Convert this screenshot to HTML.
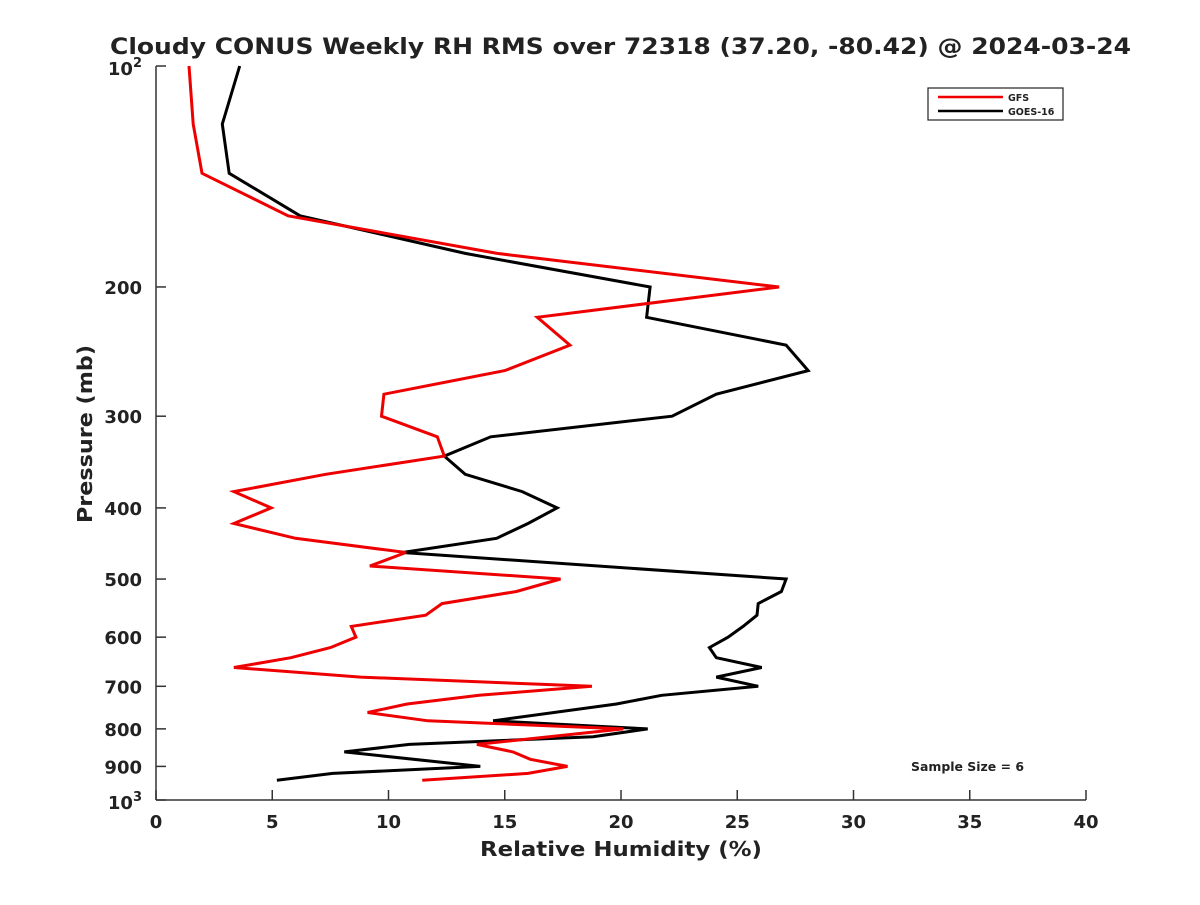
<!DOCTYPE html>
<html><head><meta charset="utf-8"><style>
body{margin:0;background:#fff}
svg text{font-family:"DejaVu Sans","Liberation Sans",sans-serif;font-weight:bold;fill:#222}
</style></head><body>
<svg id="chart" width="1200" height="900" viewBox="0 0 1200 900">
<rect width="1200" height="900" fill="#fff"/>
<text x="110" y="54" font-size="22" textLength="1021" lengthAdjust="spacingAndGlyphs" fill="#000">Cloudy CONUS Weekly RH RMS over 72318 (37.20, -80.42) @ 2024-03-24</text>
<g id="axes"></g>
<g id="series"></g>
<text x="480" y="856" font-size="20" textLength="282" lengthAdjust="spacingAndGlyphs">Relative Humidity (%)</text>
<text transform="translate(92,523) rotate(-90)" font-size="20" textLength="178" lengthAdjust="spacingAndGlyphs">Pressure (mb)</text>
<g>
<rect x="928" y="88" width="135" height="32" fill="#fff" stroke="#222" stroke-width="1.2"/>
<line x1="938" y1="97" x2="1003" y2="97" stroke="#e00" stroke-width="2.5"/>
<text x="1008" y="101" font-size="9.5">GFS</text>
<line x1="938" y1="111" x2="1003" y2="111" stroke="#000" stroke-width="2.5"/>
<text x="1008" y="115" font-size="9.5">GOES-16</text>
</g>
<text x="911" y="771" font-size="12" textLength="113" lengthAdjust="spacingAndGlyphs" fill="#000">Sample Size = 6</text>
</svg>
<script>
const pressures=[100,120,140,160,180,200,220,240,260,280,300,320,340,360,380,400,420,440,460,480,500,520,540,560,580,600,620,640,660,680,700,720,740,760,780,800,820,840,860,880,900,920,940];
const gfsRH=[1.42,1.6,1.98,5.68,14.67,26.8,16.4,17.8,15.0,9.8,9.7,12.1,12.4,7.3,3.35,4.95,3.35,6.0,10.75,9.2,17.4,15.5,12.3,11.6,8.4,8.6,7.5,5.8,3.35,8.8,18.75,13.9,10.8,9.1,11.7,20.1,null,13.8,15.35,16.1,17.7,16.0,11.45];
const goesRH=[3.6,2.85,3.15,6.2,13.3,21.25,21.1,27.1,28.05,24.1,22.2,14.4,12.4,13.3,15.75,17.25,16.0,14.65,10.6,null,27.1,26.9,25.9,25.85,25.25,24.6,23.8,24.1,26.05,24.1,25.9,21.75,19.8,null,14.5,21.15,18.8,10.9,8.1,null,13.95,7.6,5.2];
const xTicks=[0,5,10,15,20,25,30,35,40];
const yTicks=[200,300,400,500,600,700,800,900];
const L=156,R=1086,T=66,B=800;
const xs=v=>L+(v/40)*(R-L);
const ys=p=>T+(Math.log10(p)-2)*(B-T);
const NS="http://www.w3.org/2000/svg";
function mk(tag,parent,attrs){const e=document.createElementNS(NS,tag);for(const k in attrs)e.setAttribute(k,attrs[k]);parent.appendChild(e);return e;}
const ax=document.getElementById('axes');
let a=mk('line',ax,{x1:L,y1:B,x2:R,y2:B,stroke:'#333','stroke-width':1.5});


a=mk('line',ax,{x1:L,y1:T,x2:L,y2:B,stroke:'#333','stroke-width':1.5});


xTicks.forEach(v=>{
 const x=xs(v);
 let t=mk('line',ax,{x1:x,y1:B,x2:x,y2:B-10,stroke:'#333','stroke-width':1.5});
 
 
 let l=mk('text',ax,{x:x,y:B+28,'font-size':18,'text-anchor':'middle'});l.textContent=v;
 
 
});
yTicks.forEach(p=>{
 const y=ys(p);
 let t=mk('line',ax,{x1:L,y1:y,x2:L+10,y2:y,stroke:'#333','stroke-width':1.5});
 
 
 let l=mk('text',ax,{x:L-14,y:y+7,'font-size':18,'text-anchor':'end'});l.textContent=p;
 
 
});
[[100,'2'],[1000,'3']].forEach(([p,e])=>{
 const y=ys(p);
 let t=mk('line',ax,{x1:L,y1:y,x2:L+10,y2:y,stroke:'#333','stroke-width':1.5});
 
 
 let l=mk('text',ax,{x:L-14,y:y+9,'font-size':18,'text-anchor':'end'});
 l.textContent='10';
 const s=mk('tspan',l,{dy:-8,'font-size':13});s.textContent=e;
 
 
});
const sg=document.getElementById('series');
function draw(vals,color,name){
 const pts=[];vals.forEach((v,i)=>{if(v!==null)pts.push(xs(v).toFixed(1)+','+ys(pressures[i]).toFixed(1));});
 const pl=mk('polyline',sg,{points:pts.join(' '),fill:'none',stroke:color,'stroke-width':3,'stroke-linejoin':'miter'});
 
 
}
draw(goesRH,'#000','goes16-line');
draw(gfsRH,'#e00','gfs-line');
</script>
</body></html>
